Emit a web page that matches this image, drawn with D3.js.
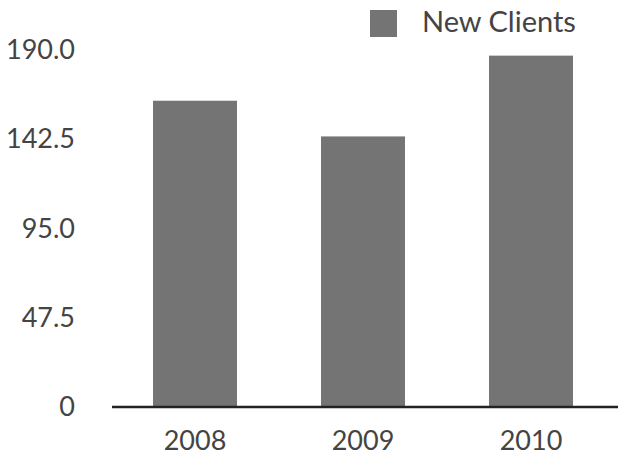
<!DOCTYPE html>
<html>
<head>
<meta charset="utf-8">
<script src="https://cdn.jsdelivr.net/npm/d3@7"></script>
<style>
  html, body { margin: 0; padding: 0; background: #fff; }
  svg { display: block; }
  text { font-family: Lato, "Open Sans", sans-serif; fill: #444; }
</style>
</head>
<body>
<svg id="chart" width="618" height="455"></svg>
<script>
// New clients per year
const years = ["2008", "2009", "2010"];
const newClients = [163, 144, 187];
const yTicks = [0, 47.5, 95, 142.5, 190];
const seriesName = "New Clients";

const svg = d3.select("#chart");
const W = 618, H = 455;

const x = d3.scaleBand()
  .domain(years)
  .range([111, 615])
  .paddingInner(0.5)
  .paddingOuter(0.25);

const y = d3.scaleLinear()
  .domain([0, 190])
  .range([407, 50]);

const barColor = "#747474";

// bars
svg.append("g")
  .selectAll("rect")
  .data(years.map((yr, i) => ({ yr, v: newClients[i] })))
  .join("rect")
  .attr("x", d => x(d.yr))
  .attr("y", d => y(d.v))
  .attr("width", x.bandwidth())
  .attr("height", d => y(0) - y(d.v))
  .attr("fill", barColor);

// value axis labels (no axis line, no ticks)
const yAxis = d3.axisLeft(y)
  .tickValues(yTicks)
  .tickFormat(d => d === 0 ? "0" : d3.format(".1f")(d))
  .tickSize(0)
  .tickPadding(0);

svg.append("g")
  .attr("transform", "translate(75,0)")
  .call(yAxis)
  .call(g => g.select(".domain").remove())
  .call(g => g.selectAll("text")
    .attr("font-size", 27)
    .attr("font-family", "Lato, sans-serif")
    .attr("fill", "#444"));

// baseline
svg.append("line")
  .attr("x1", 112).attr("x2", W)
  .attr("y1", y(0)).attr("y2", y(0))
  .attr("stroke", "#222")
  .attr("stroke-width", 2.5);

// category axis labels
const xAxis = d3.axisBottom(x).tickSize(0).tickPadding(0);
svg.append("g")
  .attr("transform", `translate(0,${y(0)})`)
  .call(xAxis)
  .call(g => g.select(".domain").remove())
  .call(g => g.selectAll("text")
    .attr("dy", null)
    .attr("y", 43)
    .attr("font-size", 27)
    .attr("font-family", "Lato, sans-serif")
    .attr("fill", "#444"));

// legend
const legend = svg.append("g");
legend.append("rect")
  .attr("x", 370).attr("y", 10)
  .attr("width", 27).attr("height", 27)
  .attr("fill", barColor);
legend.append("text")
  .attr("x", 422).attr("y", 32)
  .attr("font-size", 29)
  .text(seriesName);
</script>
</body>
</html>
